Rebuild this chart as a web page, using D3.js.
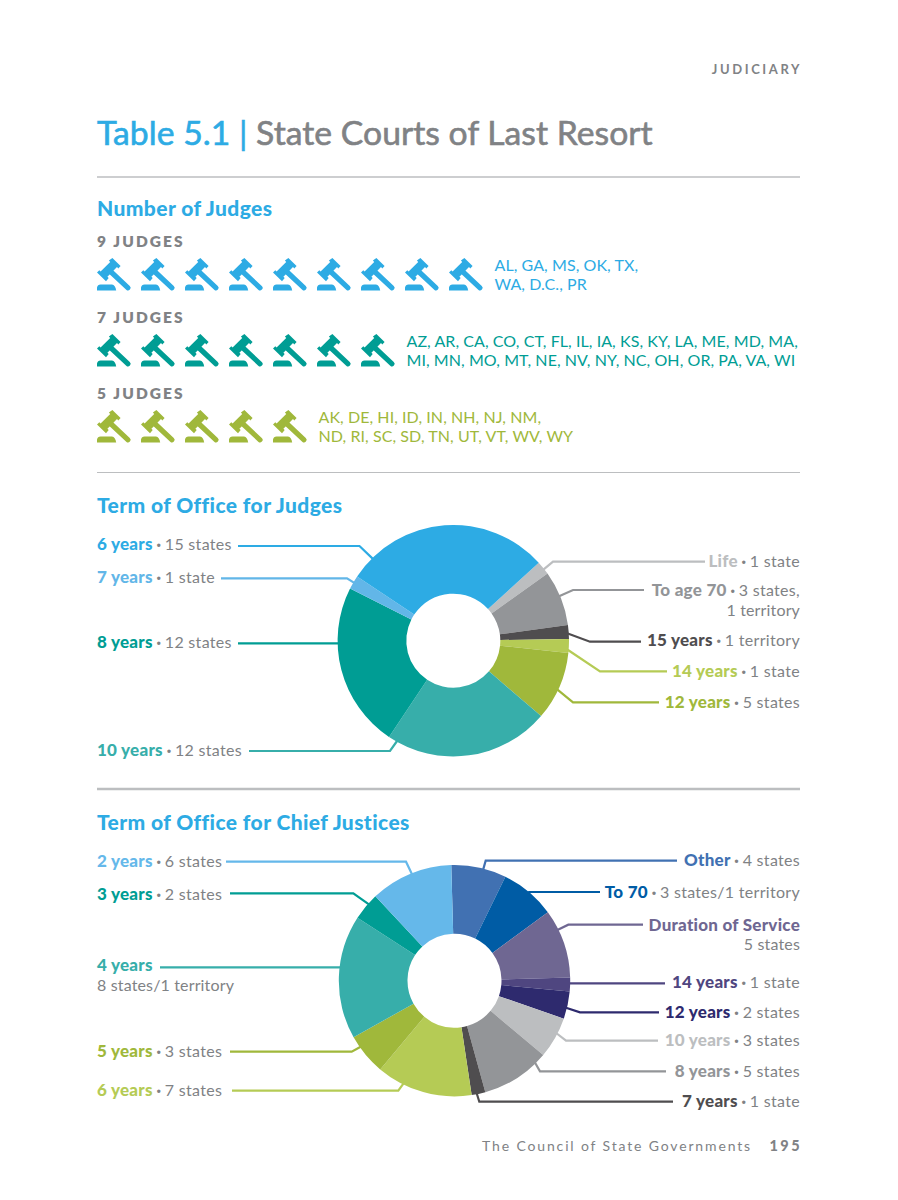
<!DOCTYPE html>
<html>
<head>
<meta charset="utf-8">
<script src="https://cdn.jsdelivr.net/npm/d3@7/dist/d3.min.js"></script>
<style>
  html, body { margin: 0; padding: 0; background: #fff; }
  svg { display: block; font-family: Lato, "Open Sans", sans-serif; }
</style>
</head>
<body>
<svg id="page" width="898" height="1200"></svg>
<script>
// ---- Data ----------------------------------------------------------------
const judgeCounts = [9, 7, 5];
const judgeStates = [
  ["AL, GA, MS, OK, TX,", "WA, D.C., PR"],
  ["AZ, AR, CA, CO, CT, FL, IL, IA, KS, KY, LA, ME, MD, MA,", "MI, MN, MO, MT, NE, NV, NY, NC, OH, OR, PA, VA, WI"],
  ["AK, DE, HI, ID, IN, NH, NJ, NM,", "ND, RI, SC, SD, TN, UT, VT, WV, WY"]
];
const judgeColors = ["#2dabe4", "#009d94", "#a0b83b"];

// Slices run clockwise from the first entry
const termNames = ["Life", "To age 70", "15 years", "14 years", "12 years", "10 years", "8 years", "7 years", "6 years"];
const termValues = [1, 4, 1, 1, 5, 12, 12, 1, 15];
const termNotes = [["1 state"], ["3 states,", "1 territory"], ["1 territory"], ["1 state"], ["5 states"], ["12 states"], ["12 states"], ["1 state"], ["15 states"]];
const termColors = ["#bcbec0", "#939598", "#4f4d4f", "#b5cb55", "#a0b83b", "#37aeaa", "#009d94", "#62b6e8", "#2dabe4"];

const chiefNames = ["Other", "To 70", "Duration of Service", "14 years", "12 years", "10 years", "8 years", "7 years", "6 years", "5 years", "4 years", "3 years", "2 years"];
const chiefValues = [4, 4, 5, 1, 2, 3, 5, 1, 7, 3, 9, 2, 6];
const chiefNotes = [["4 states"], ["3 states/1 territory"], ["", "5 states"], ["1 state"], ["2 states"], ["3 states"], ["5 states"], ["1 state"], ["7 states"], ["3 states"], ["", "8 states/1 territory"], ["2 states"], ["6 states"]];
const chiefColors = ["#4171b2", "#005ca5", "#6f6792", "#4f4680", "#2e2a6e", "#bcbec0", "#939598", "#4f4d4f", "#b5cb55", "#a0b83b", "#37aeaa", "#009d94", "#65b8ea"];

// ---- Layout --------------------------------------------------------------
const LEFT = 97, RIGHT = 800;
const GREY = "#808285", BLUE = "#2dabe4";

// Leader geometry per slice: side, leader y, outer x of the line, elbow x
// (null when straight), how far along the slice's arc the line lands, and
// the label baseline.
const termLeaders = [
  ["r", 561.7, 705, 553, .6, 567], ["r", 590, 644, 573, .46, 596], ["r", 641.7, 641, 590, .6, 646],
  ["r", 671.3, 667, 600, .78, 677], ["r", 702.3, 659, 573, .55, 708], ["l", 751, 249, 390, .946, 756],
  ["l", 643.3, 238, null, .69, 647.5], ["l", 578.3, 221, 347, .5, 583], ["l", 546, 238, 359.5, .113, 549.5]
];
const chiefLeaders = [
  ["r", 860.7, 677, 485.7, .58, 866], ["r", 892, 600, null, .5, 897.5], ["r", 924.7, 643, 568.3, .29, 930.5],
  ["r", 983.3, 665, null, .42, 988], ["r", 1012.3, 659, 580, .6, 1017.5], ["r", 1040.7, 658, 566, .39, 1046],
  ["r", 1071.3, 666, 540, .16, 1077], ["r", 1101.7, 673, 479.3, .62, 1107], ["l", 1090.7, 232, 398.3, .72, 1095.5],
  ["l", 1051.7, 230, 351.7, .72, 1057], ["l", 967.3, 160, null, .576, 971], ["l", 893.3, 230, 353.3, .63, 899.5],
  ["l", 861.7, 226, 406, .515, 866.5]
];

const svg = d3.select("#page");

function text(x, y, str, o = {}) {
  return svg.append("text").attr("x", x).attr("y", y).text(str)
    .attr("fill", o.fill || GREY).attr("font-size", o.size || 16)
    .attr("font-weight", o.weight || 400).attr("text-anchor", o.anchor || "start")
    .attr("letter-spacing", o.spacing || 0);
}
function rule(y, w) {
  svg.append("line").attr("x1", LEFT).attr("x2", RIGHT).attr("y1", y).attr("y2", y)
    .attr("stroke", "#bcbec0").attr("stroke-width", w);
}

// ---- Header --------------------------------------------------------------
text(802, 74, "JUDICIARY", { size: 13, weight: 700, anchor: "end", spacing: 2.6 });
const title = svg.append("text").attr("x", LEFT).attr("y", 145).attr("font-size", 33.7)
  .attr("letter-spacing", 0.03).attr("stroke-width", 0.6);
title.append("tspan").attr("fill", BLUE).attr("stroke", BLUE).text("Table 5.1 | ");
title.append("tspan").attr("fill", GREY).attr("stroke", GREY).text("State Courts of Last Resort");
rule(177, 1.5);
rule(472.5, 1);
rule(789, 2.5);

const headingStyle = { fill: BLUE, size: 21, weight: 900, spacing: 0.4 };
text(LEFT, 216, "Number of Judges", headingStyle);
text(LEFT, 513, "Term of Office for Judges", headingStyle);
text(LEFT, 830, "Term of Office for Chief Justices", headingStyle);

// ---- Gavel rows ----------------------------------------------------------
const gavelHead = "M0,14.5L2.3,12.2L3.6,13.5L13.2,3.9L11.9,2.6L15.4,0L23.6,8L21.3,10.4L20,9.1L10.4,18.7L11.7,20L9,23.2Z";
const gavelBase = "M0,32.5V29.5Q.6,26.6 3.5,26.6H15Q18.3,27 19.2,32.5Z";
const rowTop = d3.scalePoint().domain(judgeCounts).range([258, 410]);
const iconX = i => LEFT + i * 44;

judgeCounts.forEach((count, r) => {
  const top = rowTop(count), color = judgeColors[r];
  text(LEFT, top - 11, `${count} JUDGES`, { size: 15.5, weight: 800, spacing: 2.1 });
  const icons = svg.append("g").selectAll("g").data(d3.range(count)).join("g")
    .attr("transform", i => `translate(${iconX(i)},${top})`);
  icons.append("path").attr("d", gavelHead).attr("fill", color);
  icons.append("path").attr("d", gavelBase).attr("fill", color);
  icons.append("line").attr("x1", 13).attr("y1", 13).attr("x2", 31).attr("y2", 29.8)
    .attr("stroke", color).attr("stroke-width", 5.2).attr("stroke-linecap", "round");
  judgeStates[r].forEach((line, k) => {
    text(iconX(count - 1) + 45.5, top + 13 + k * 19.2, line, { fill: color, size: 16, spacing: 0.07 });
  });
});

// ---- Donut charts --------------------------------------------------------
const OUTER = 115.7, INNER = 47;
const arc = d3.arc().innerRadius(INNER).outerRadius(OUTER);
const rad = d => d * Math.PI / 180;

function donut(cx, cy, startDeg, names, values, notes, colors, leaders) {
  const pie = d3.pie().sort(null).startAngle(rad(startDeg)).endAngle(rad(startDeg + 360));
  const slices = pie(values);
  const chart = svg.append("g");

  // Leader lines sit under the slices and land on the outer arc
  slices.forEach((s, i) => {
    const [side, y, outerX, elbowX, along] = leaders[i];
    const a = s.startAngle + along * (s.endAngle - s.startAngle);
    const ex = cx + (OUTER - 1) * Math.sin(a), ey = cy - (OUTER - 1) * Math.cos(a);
    const pts = elbowX === null ? [[outerX, y], [ex, y]] : [[outerX, y], [elbowX, y], [ex, ey]];
    chart.append("path").attr("d", d3.line()(pts)).attr("fill", "none")
      .attr("stroke", colors[i]).attr("stroke-width", 2.2);
  });

  chart.append("g").attr("transform", `translate(${cx},${cy})`)
    .selectAll("path").data(slices).join("path")
    .attr("d", arc).attr("fill", (d, i) => colors[i]);

  // Labels: bold name in the slice colour, note in grey
  slices.forEach((s, i) => {
    const [side, , , , , base] = leaders[i];
    const right = side === "r";
    const first = svg.append("text").attr("x", right ? RIGHT : LEFT).attr("y", base)
      .attr("text-anchor", right ? "end" : "start").attr("font-size", 16);
    first.append("tspan").attr("fill", colors[i]).attr("font-weight", 900)
      .attr("font-size", 17).attr("letter-spacing", 0.25).text(names[i]);
    if (notes[i][0]) {
      first.append("tspan").attr("fill", GREY).attr("font-weight", 900).text(" · ");
      first.append("tspan").attr("fill", GREY).attr("letter-spacing", 0.3).text(notes[i][0]);
    }
    if (notes[i][1]) {
      text(right ? RIGHT : LEFT, base + 19.5, notes[i][1], { anchor: right ? "end" : "start", spacing: 0.15 });
    }
  });
}

donut(453.3, 640.7, 47.6, termNames, termValues, termNotes, termColors, termLeaders);
donut(454.5, 980.7, -1.6, chiefNames, chiefValues, chiefNotes, chiefColors, chiefLeaders);

// ---- Footer --------------------------------------------------------------
text(752, 1151, "The Council of State Governments", { size: 14, anchor: "end", spacing: 1.85 });
text(802, 1151, "195", { size: 14.5, weight: 900, anchor: "end", spacing: 2.4 });
</script>
</body>
</html>
